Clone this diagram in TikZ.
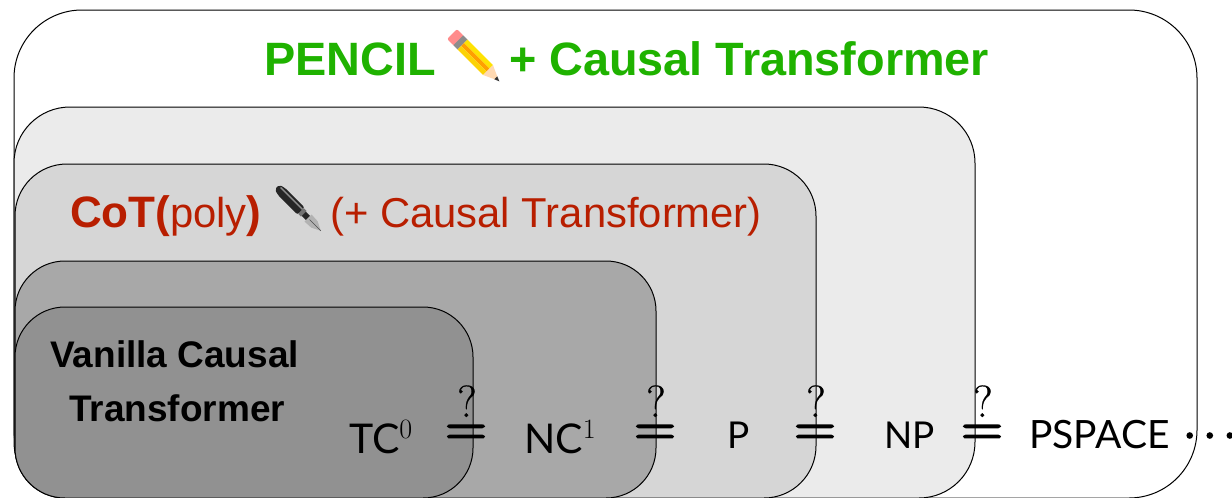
\documentclass[tikz,border=0pt]{standalone}
\usepackage{fontspec}
\usepackage{tikz}
\newfontfamily\titlefont{Liberation Sans}
\newfontfamily\classfont{Lato}
\newfontfamily\equalfont[FakeBold=3.2]{Latin Modern Roman}
\newfontfamily\askfont[FakeBold=0.6]{Latin Modern Roman}
\definecolor{pencilgreen}{HTML}{1FB200}
\definecolor{cotred}{HTML}{B81E00}

\begin{document}
\begin{tikzpicture}[
    x=1pt,
    y=-1pt,
    setbox/.style={
        draw=black,
        line width=1pt,
        rectangle,
        anchor=north west,
        inner sep=0pt,
        outer sep=0pt
    },
    titlelabel/.style={
        anchor=base west,
        inner sep=0pt,
        font=\titlefont\bfseries\fontsize{46.8}{50}\selectfont,
        text=pencilgreen
    },
    cotlabel/.style={
        anchor=base west,
        inner sep=0pt,
        font=\titlefont\fontsize{41.8}{46}\selectfont,
        text=cotred
    },
    cotboldlabel/.style={
        cotlabel,
        font=\titlefont\bfseries\fontsize{44}{48}\selectfont
    },
    vanillalabel/.style={
        anchor=base west,
        inner sep=0pt,
        font=\titlefont\bfseries\fontsize{37}{40}\selectfont
    },
    classlabel/.style={
        anchor=base west,
        inner sep=0pt,
        font=\classfont\fontsize{37}{42}\selectfont
    },
    powerlabel/.style={
        classlabel,
        font=\classfont\fontsize{41}{44}\selectfont
    },
    questionlabel/.style={
        anchor=base,
        inner sep=0pt,
        font=\askfont\fontsize{45}{48}\selectfont
    },
    equallabel/.style={
        anchor=center,
        inner sep=0pt,
        font=\equalfont\fontsize{57}{60}\selectfont
    }
]
\useasboundingbox (0,0) rectangle (1232,498);


\node[setbox, minimum width=1183pt, minimum height=488pt, rounded corners=68pt] (pencilset) at (14,10) {};
\node[setbox, fill=black!8, minimum width=961pt, minimum height=391pt, rounded corners=56pt] (npset) at (14,107) {};
\node[setbox, fill=black!16, minimum width=801pt, minimum height=334pt, rounded corners=52pt] (cotset) at (15,164) {};
\node[setbox, fill=black!34, minimum width=641pt, minimum height=237pt, rounded corners=50pt] (ncset) at (15,261) {};
\node[setbox, fill=black!43, minimum width=458pt, minimum height=191pt, rounded corners=50pt] (vanillaset) at (15,307) {};


\node[titlelabel] (pencilname) at (264,75) {PENCIL};
\node[titlelabel] (pencilplus) at (509,75) {+ Causal Transformer};


\begin{scope}[shift={(452,34)},rotate=-45]
\fill[rounded corners=2pt, fill=red!45!white] (0,-7) -- (10,-7) -- (10,7) -- (0,7) -- cycle;
\fill[black!45] (9,-7) rectangle (15,7);
\fill[yellow!85!orange] (15,-7) rectangle (51,-2);
\fill[orange!75!yellow] (15,-2) rectangle (51,2);
\fill[yellow!70!orange] (15,2) rectangle (51,7);
\fill[orange!30!white] (51,-7) -- (63,-1.5) -- (63,1.5) -- (51,7) -- cycle;
\fill[black!80] (62,-2) -- (67,0) -- (62,2) -- cycle;
\end{scope}


\node[cotboldlabel] (cotname) at (70,227) {CoT(};
\node[cotlabel] (cotpoly) at (170,227) {poly};
\node[cotboldlabel] (cotclose) at (246,227) {)};
\node[cotlabel] (cotplus) at (330,227) {(+ Causal Transformer)};


\begin{scope}[shift={(277,187)},rotate=-45]
\fill[rounded corners=2pt, black!85] (0,-3) -- (6,-5) -- (34,-5) -- (34,5) -- (6,5) -- (0,3) -- cycle;
\fill[black!45] (3,-3) -- (34,-3) -- (34,-1.5) -- (3,-1.5) -- cycle;
\fill[black!55] (34,-4) rectangle (38,4);
\fill[black!85] (38,-3) rectangle (44,3);
\fill[black!30] (44,-5) -- (53,-4.5) -- (62,0) -- (53,4.5) -- (44,5) -- cycle;
\draw[black!70, line width=0.6pt] (46,0) -- (62,0);
\end{scope}


\node[vanillalabel] (vanillaname) at (50,367) {Vanilla Causal};
\node[vanillalabel] (vanillanametwo) at (69,421) {Transformer};


\node[powerlabel] (tcname) at (349,453) {TC\raisebox{15pt}{\rmfamily\fontsize{28}{30}\selectfont 0}};
\node[powerlabel] (ncname) at (524,453) {NC\raisebox{15pt}{\rmfamily\fontsize{28}{30}\selectfont 1}};
\node[classlabel] (pname) at (727,448) {P};
\node[classlabel] (npname) at (884,448) {NP};
\node[classlabel] (pspacename) at (1029,448) {\fontsize{39}{42}\selectfont PSPACE};
\node[anchor=base west, inner sep=0pt, font=\equalfont\fontsize{57}{60}\selectfont] (dotsname) at (1169,455) {·\kern-21pt·\kern-21pt·\kern-21pt};


\node[equallabel] (eqone) at (466,435.5) {=};
\node[equallabel] (eqtwo) at (655,435.5) {=};
\node[equallabel] (eqthree) at (815,435.5) {=};
\node[equallabel] (eqfour) at (982,435.5) {=};


\node[questionlabel] (askone) at (467,417) {?};
\node[questionlabel] (asktwo) at (656,417) {?};
\node[questionlabel] (askthree) at (816,417) {?};
\node[questionlabel] (askfour) at (983,417) {?};

\end{tikzpicture}
\end{document}
